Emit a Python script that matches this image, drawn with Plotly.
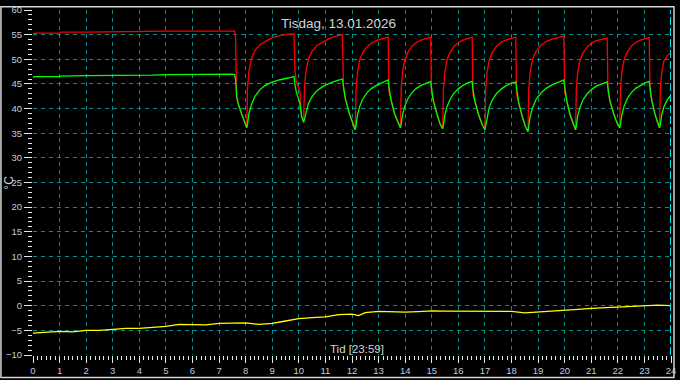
import plotly.graph_objects as go

# ---------------- data ----------------
TITLE = "Tisdag, 13.01.2026"
X_TITLE = "Tid [23:59]"
Y_TITLE = "°C"
NOW_HOUR = 24

HOURS = [
    0, 0.1, 1.0, 1.05, 2, 3, 4, 4.5, 5, 6, 7, 7.5, 7.58,
    # cycle 1
    7.62, 7.66, 7.72, 7.85, 7.95, 8.04,
    8.07, 8.12, 8.22, 8.35, 8.54, 8.72, 8.97, 9.29, 9.6, 9.82,
    # cycle 2
    9.85, 9.9, 10.04, 10.1, 10.18,
    10.21, 10.26, 10.36, 10.49, 10.68, 10.88, 11.1, 11.4, 11.64,
    # cycle 3
    11.68, 11.75, 11.9, 12.02, 12.12,
    12.15, 12.2, 12.28, 12.4, 12.56, 12.74, 12.95, 13.18, 13.36,
    # cycle 4
    13.39, 13.47, 13.6, 13.72, 13.82,
    13.85, 13.9, 13.98, 14.1, 14.25, 14.42, 14.6, 14.8, 14.96,
    # cycle 5
    14.99, 15.06, 15.2, 15.32, 15.41,
    15.44, 15.49, 15.57, 15.69, 15.83, 16.0, 16.17, 16.36, 16.52,
    # cycle 6
    16.55, 16.62, 16.76, 16.9, 17.0,
    17.03, 17.08, 17.16, 17.28, 17.43, 17.6, 17.78, 17.98, 18.16,
    # cycle 7
    18.19, 18.27, 18.4, 18.52, 18.62,
    18.65, 18.7, 18.79, 18.92, 19.1, 19.3, 19.52, 19.76, 19.97,
    # cycle 8
    20.0, 20.08, 20.2, 20.32, 20.41,
    20.44, 20.49, 20.57, 20.69, 20.85, 21.02, 21.2, 21.42, 21.6,
    # cycle 9
    21.63, 21.7, 21.84, 21.97, 22.07,
    22.1, 22.15, 22.23, 22.35, 22.5, 22.67, 22.84, 23.03, 23.18,
    # cycle 10
    23.21, 23.28, 23.4, 23.5, 23.57,
    23.6, 23.65, 23.73, 23.85, 24.0,
]

SUPPLY = [
    55.2, 55.3, 55.3, 55.5, 55.5, 55.6, 55.6, 55.6, 55.7, 55.7, 55.7, 55.8, 55.7,
    54.5, 42.2, 40.8, 38.9, 37.2, 36.1,
    44.2, 47.5, 50.2, 51.8, 52.95, 53.6, 54.35, 54.8, 55.1, 55.15,
    48.0, 45.5, 43.4, 38.5, 37.2,
    44.0, 47.3, 50.0, 51.6, 52.8, 53.5, 54.1, 54.7, 55.0,
    44.0, 42.0, 39.0, 37.0, 35.7,
    43.5, 47.0, 49.7, 51.3, 52.5, 53.3, 53.9, 54.3, 54.5,
    43.5, 41.7, 39.0, 37.2, 36.1,
    44.0, 47.3, 49.8, 51.4, 52.6, 53.4, 53.9, 54.3, 54.5,
    43.2, 41.5, 38.8, 36.8, 35.9,
    44.0, 47.3, 49.8, 51.4, 52.6, 53.4, 53.9, 54.3, 54.5,
    43.0, 41.5, 38.8, 36.7, 35.7,
    44.0, 47.3, 49.8, 51.4, 52.6, 53.4, 53.9, 54.3, 54.5,
    43.0, 41.2, 38.5, 36.4, 35.3,
    44.0, 47.3, 50.0, 51.6, 52.8, 53.6, 54.1, 54.5, 54.7,
    43.5, 41.5, 38.8, 36.8, 35.7,
    44.0, 47.2, 49.7, 51.3, 52.5, 53.3, 53.8, 54.1, 54.3,
    43.5, 41.6, 39.0, 37.1, 36.1,
    44.0, 47.3, 49.8, 51.4, 52.6, 53.4, 53.9, 54.2, 54.4,
    43.5, 41.5, 38.8, 37.0, 36.1,
    44.0, 47.3, 49.6, 50.7, 51.4,
]

RETURN = [
    46.4, 46.5, 46.5, 46.6, 46.7, 46.7, 46.8, 46.8, 46.9, 47.0, 47.0, 47.0, 46.9,
    46.0, 42.5, 41.0, 38.9, 37.2, 36.1,
    36.8, 38.9, 40.85, 42.5, 43.85, 44.65, 45.3, 45.85, 46.2, 46.5,
    45.0, 43.5, 41.0, 38.5, 37.2,
    37.8, 39.3, 41.0, 42.4, 43.6, 44.4, 45.0, 45.6, 46.0,
    44.5, 42.0, 39.0, 37.0, 35.7,
    36.5, 38.5, 40.3, 41.9, 43.2, 44.1, 44.8, 45.4, 45.8,
    44.3, 41.7, 39.0, 37.2, 36.1,
    36.8, 38.7, 40.4, 42.0, 43.2, 44.1, 44.7, 45.2, 45.5,
    44.2, 41.5, 38.8, 36.8, 35.9,
    36.6, 38.6, 40.3, 41.9, 43.1, 44.0, 44.7, 45.2, 45.5,
    44.0, 41.5, 38.8, 36.7, 35.7,
    36.5, 38.5, 40.2, 41.8, 43.0, 43.9, 44.6, 45.1, 45.4,
    44.2, 41.2, 38.5, 36.4, 35.3,
    36.2, 38.3, 40.1, 41.8, 43.1, 44.1, 44.8, 45.4, 45.8,
    44.5, 41.5, 38.8, 36.8, 35.7,
    36.5, 38.5, 40.2, 41.8, 43.0, 43.9, 44.6, 45.1, 45.4,
    44.2, 41.6, 39.0, 37.1, 36.1,
    36.8, 38.7, 40.4, 42.0, 43.2, 44.1, 44.7, 45.2, 45.5,
    44.2, 41.5, 38.8, 37.0, 36.1,
    36.8, 38.7, 40.3, 41.7, 42.7,
]

OUT_HOURS = [
    0, 0.5, 1, 1.5, 2, 2.5, 3, 3.5, 4, 4.5, 5, 5.5, 6, 6.5, 7, 7.5, 8, 8.5,
    9, 9.5, 10, 10.5, 11, 11.5, 12, 12.25, 12.5, 13, 13.5, 14, 14.5, 15,
    15.5, 16, 16.5, 17, 17.5, 18, 18.5, 19, 19.5, 20, 20.5, 21, 21.5, 22,
    22.5, 23, 23.5, 24,
]
OUTDOOR = [
    -5.55, -5.4, -5.2, -5.3, -5.0, -5.0, -4.8, -4.6, -4.6, -4.45, -4.2, -3.8,
    -3.9, -3.9, -3.6, -3.5, -3.5, -3.8, -3.6, -3.1, -2.6, -2.4, -2.25, -1.8,
    -1.7, -2.0, -1.4, -1.15, -1.3, -1.3, -1.2, -1.05, -1.1, -1.1, -1.1, -1.0,
    -1.0, -1.15, -1.45, -1.3, -1.2, -0.9, -0.75, -0.55, -0.4, -0.25, -0.25,
    -0.05, 0.1, 0.0,
]

# ---------------- figure ----------------
W, H = 680, 380
ML, MR, MT, MB = 33, 5, 4, 25
PW, PH = W - ML - MR, H - MT - MB

fig = go.Figure()
fig.add_trace(go.Scatter(x=HOURS, y=SUPPLY, mode="lines",
                         line=dict(color="#ff0000", width=1.3), showlegend=False))
fig.add_trace(go.Scatter(x=HOURS, y=RETURN, mode="lines",
                         line=dict(color="#00ff00", width=1.3), showlegend=False))
fig.add_trace(go.Scatter(x=OUT_HOURS, y=OUTDOOR, mode="lines",
                         line=dict(color="#ffff00", width=1.3), showlegend=False))

tickfont = dict(family="Arial, Liberation Sans", size=9.5, color="#c4ccd8")
grid = dict(gridcolor="#009090", gridwidth=1, griddash="4px,4px")

fig.update_xaxes(
    range=[0, 24], dtick=1, tick0=0, ticks="outside", ticklen=7, tickwidth=1,
    tickcolor="#e8e8e8", tickfont=tickfont, showline=True, linecolor="#000000",
    mirror=True, zeroline=False, ticklabeloverflow="allow",
    minor=dict(dtick=1/6, ticks="outside", ticklen=4, tickwidth=1,
               tickcolor="#e8e8e8", showgrid=False),
    **grid,
)
fig.update_yaxes(
    range=[-10, 60], dtick=5, tick0=0, ticks="outside", ticklen=8, tickwidth=1,
    tickcolor="#e8e8e8", tickfont=tickfont, showline=True, linecolor="#000000",
    mirror=True, zeroline=False, ticklabeloverflow="allow",
    minor=dict(dtick=1, ticks="outside", ticklen=4, tickwidth=1,
               tickcolor="#e8e8e8", showgrid=False),
    **grid,
)

fig.add_vline(x=NOW_HOUR, line=dict(color="#00e0ea", width=2, dash="8px,3px"))

# outer frame around the whole picture
fig.add_shape(type="rect", xref="paper", yref="paper",
              x0=(0.75 - ML) / PW, x1=(678 - ML) / PW,
              y0=(MT + PH - 378) / PH, y1=(MT + PH - 0.75) / PH,
              line=dict(color="#d4d4d4", width=1.5), layer="above")

fig.add_annotation(text=TITLE, xref="paper", yref="paper",
                   x=(340 - ML) / PW, y=(MT + PH - 18) / PH,
                   xanchor="center", yanchor="middle", showarrow=False,
                   font=dict(family="Arial, Liberation Sans", size=13.5, color="#d4d4d4"))
fig.add_annotation(text=X_TITLE, xref="paper", yref="paper",
                   x=(359.5 - ML) / PW, y=(MT + PH - 349) / PH,
                   xanchor="center", yanchor="middle", showarrow=False,
                   font=dict(family="Arial, Liberation Sans", size=11.5, color="#d4d4d4"))
fig.add_annotation(text=Y_TITLE, xref="paper", yref="paper",
                   x=(8 - ML) / PW, y=0.5, textangle=-90,
                   xanchor="center", yanchor="middle", showarrow=False,
                   font=dict(family="Arial, Liberation Sans", size=12, color="#d4d4d4"))

fig.update_layout(
    width=W, height=H,
    margin=dict(l=ML, r=MR, t=MT, b=MB, pad=0),
    paper_bgcolor="#000000", plot_bgcolor="#000000",
    showlegend=False,
)

fig.write_html("out.html", config={"displayModeBar": False})
